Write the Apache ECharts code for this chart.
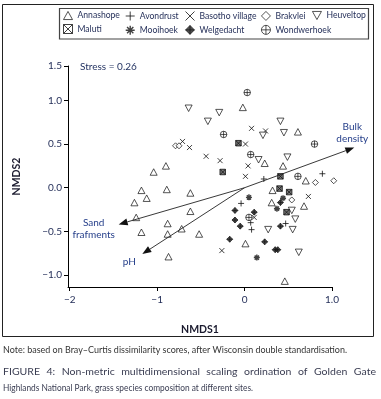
<!DOCTYPE html>
<html><head><meta charset="utf-8">
<script src="https://cdn.jsdelivr.net/npm/echarts@6/dist/echarts.min.js"></script>
<style>html,body{margin:0;padding:0;background:#fff}#c{width:381px;height:399px}</style>
</head><body><div id="c"></div>
<script>
// ---- data ----
const siteNames = ['Annashope','Avondrust','Basotho village','Brakvlei','Heuveltop','Maluti','Mooihoek','Welgedacht','Wondwerhoek'];
const annashopeX = [-0.90,-1.04,-1.18,-0.89,-0.62,-1.12,-1.26,-0.62,-1.24,-0.88,-1.18,-0.88,-0.72,-0.52,-0.87,-0.02,0.61,0.23,0.44,0.70,0.32,0.31,0.68,0.01,0.46];
const annashopeY = [0.25,0.18,-0.03,-0.02,-0.06,-0.12,-0.17,-0.27,-0.34,-0.41,-0.51,-0.53,-0.47,-0.53,-0.79,0.92,0.64,0.28,0.25,0.08,-0.03,-0.17,-0.21,-0.64,-1.07];
const avondrustX = [0.22,0.89,-0.04,0.07,0.08,0.47];
const avondrustY = [0.10,0.16,-0.18,-0.40,-0.48,-0.41];
const basothoX = [-0.71,-0.63,-0.44,-0.28,0.08,0.01,0.24,0.04,0.01,0.73,0.11,-0.26];
const basothoY = [0.53,0.46,0.36,0.31,0.68,0.50,0.65,0.25,0.13,-0.10,-0.34,-0.72];
const brakvleiX = [-0.79,-0.75,0.81,1.02,0.54];
const brakvleiY = [0.48,0.48,0.06,0.08,-0.14];
const heuveltopX = [-0.64,-0.42,-0.29,0.41,0.21,0.45,0.16,0.49,0.54,0.58,0.27,0.55,0.62];
const heuveltopY = [0.91,0.76,0.86,0.76,0.60,0.63,0.32,0.35,-0.26,-0.36,-0.48,-0.48,-0.74];
const malutiX = [-0.07,-0.25,0.41,0.40,0.51,0.48];
const malutiY = [0.51,0.18,0.13,-0.01,-0.05,-0.28];
const mooihoekX = [0.05,0.44,0.37,0.14];
const mooihoekY = [-0.11,-0.12,-0.24,-0.80];
const welgedachtX = [-0.11,0.11,-0.11,-0.05,-0.17,0.23,0.41,0.41,0.35,0.38];
const welgedachtY = [-0.26,-0.28,-0.37,-0.44,-0.59,-0.62,-0.17,-0.44,-0.71,-0.71];
const wondwerhoekX = [0.03,-0.24,0.07,0.80,0.61,0.05];
const wondwerhoekY = [1.09,0.61,0.38,0.50,0.13,-0.34];

const arrowNames = ['Bulk\ndensity','Sand\nfrafments','pH'];
const arrowX = [1.255,-1.44,-1.17];
const arrowY = [0.46,-0.42,-0.76];

const xTickValues = [-2,-1,0,1];
const xTickLabels = ['\u22122','\u22121','0','1.0'];
const yTickLabels = ['\u22121.0','\u22120.5','0.0','0.5','1.0','1.5'];
const stressText = 'Stress = 0.26';
const noteText = 'Note: based on Bray\u2013Curtis dissimilarity scores, after Wisconsin double standardisation.';
const captionLine1 = 'FIGURE 4: Non-metric multidimensional scaling ordination of Golden Gate';
const captionLine2 = 'Highlands National Park, grass species composition at different sites.';

// ---- axis extents / layout ----
const xMin = -2.02, xMax = 1.0;
const yMin = -1.137, yMax = 1.394;
const yTickValues = [-1,-0.5,0,0.5,1.0,yMax];

const siteX = [annashopeX,avondrustX,basothoX,brakvleiX,heuveltopX,malutiX,mooihoekX,welgedachtX,wondwerhoekX];
const siteY = [annashopeY,avondrustY,basothoY,brakvleiY,heuveltopY,malutiY,mooihoekY,welgedachtY,wondwerhoekY];

const open = {color:'#fff', borderColor:'#111', borderWidth:0.9};
const siteStyle = [
  {sym:'path://M5,0L10,9L0,9Z', size:[7,6.5], item:open},
  {sym:'path://M0,5L10,5M5,0L5,10', size:6, item:{color:'#fff',borderColor:'#111',borderWidth:1}},
  {sym:'path://M0,0L10,10M10,0L0,10', size:5, item:{color:'#fff',borderColor:'#111',borderWidth:1}},
  {sym:'path://M5,0L10,5L5,10L0,5Z', size:6, item:open},
  {sym:'path://M0,0L10,0L5,9Z', size:[7,6.5], item:open},
  {sym:'path://M0,0L10,0L10,10L0,10Z M0,0L10,10M10,0L0,10', size:5.5, item:{color:'#555',borderColor:'#111',borderWidth:1}},
  {sym:'path://M5,0L5,10M0,5L10,5M1.5,1.5L8.5,8.5M8.5,1.5L1.5,8.5', size:6, item:{color:'#111',borderColor:'#111',borderWidth:1.4}},
  {sym:'path://M5,0L10,5L5,10L0,5Z M0,5L10,5M5,0L5,10', size:6, item:{color:'#222',borderColor:'#111',borderWidth:0.8}},
  {sym:'path://M0,5A5,5 0 1 1 10,5A5,5 0 1 1 0,5Z M0,5L10,5M5,0L5,10', size:6.5, item:{color:'#fff',borderColor:'#111',borderWidth:0.9}}
];

const scatterSeries = siteNames.map((n,i)=>({
  type:'scatter', name:n, clip:false,
  symbol: siteStyle[i].sym, symbolSize: siteStyle[i].size,
  itemStyle: siteStyle[i].item,
  data: siteX[i].map((x,j)=>[x, siteY[i][j]])
}));

const arrowLabelOffset = [[-2,-15],[-25,4],[-13,8]];
const arrowSeries = {
  type:'custom', clip:false, silent:true, z:5,
  data: arrowX.map((x,i)=>[x, arrowY[i], i]),
  renderItem: function(params, api){
    const i = api.value(2);
    const s = api.coord([0,0]);
    const e = api.coord([api.value(0), api.value(1)]);
    const dx = e[0]-s[0], dy = e[1]-s[1];
    const L = Math.hypot(dx,dy), ux = dx/L, uy = dy/L;
    const hl = 9, hw = 3.4;
    const bx = e[0]-ux*hl, by = e[1]-uy*hl;
    const off = arrowLabelOffset[i];
    return {type:'group', children:[
      {type:'line', shape:{x1:s[0],y1:s[1],x2:bx,y2:by}, style:{stroke:'#222',lineWidth:0.9}},
      {type:'polygon', shape:{points:[[e[0],e[1]],[bx-uy*hw,by+ux*hw],[bx+uy*hw,by-ux*hw]]}, style:{fill:'#111'}},
      {type:'text', x:e[0]+off[0], y:e[1]+off[1], style:{text:arrowNames[i], fill:'#27408b', font:'10px Lato', align:'center', verticalAlign:'middle', lineHeight:12}}
    ]};
  }
};

// legend columns
const legendCols = [['Annashope','Maluti'],['Avondrust','Mooihoek'],['Basotho village','Welgedacht'],['Brakvlei','Wondwerhoek'],['Heuveltop']];
const legendLeft = [63,125,185,261,312];
const legends = legendCols.map((col,k)=>({
  orient:'vertical', left:legendLeft[k], top:11, padding:0, itemGap:4,
  itemWidth:9, itemHeight:9, selectedMode:false,
  textStyle:{fontFamily:'Lato', fontSize:8.6, color:'#1f2a55'},
  data: col.map(n=>{const st = siteStyle[siteNames.indexOf(n)]; return {name:n, icon:st.sym, itemStyle:Object.assign({}, st.item, n==='Maluti'?{color:'#fff'}:{})};})
}));

// caption helpers
const mctx = document.createElement('canvas').getContext('2d');
function tw(t, font){ mctx.font = font; return mctx.measureText(t).width; }
const capFont = '10px Lato';
const capScale2 = 250 / tw(captionLine2, capFont);
const noteFont = '8.5px Lato';
const noteScale = 344 / tw(noteText, noteFont);
const words = captionLine1.split(' ');
const rawW = words.map(w=>tw(w,capFont));
const capScale1 = (373 - (words.length-1)*6.5) / rawW.reduce((a,b)=>a+b,0);
const wordW = rawW.map(w=>w*capScale1);
const gap = (373 - wordW.reduce((a,b)=>a+b,0)) / (words.length-1);
let cx = 3;
const line1Els = words.map((w,k)=>{ const el = {type:'text', x:cx, y:372, scaleX:capScale1, style:{text:w, font:capFont, fill:'#3a3d52', verticalAlign:'middle'}}; cx += wordW[k]+gap; return el; });

const chart = echarts.init(document.getElementById('c'), null, {renderer:'canvas'});
chart.setOption({
  animation:false,
  backgroundColor:'#fff',
  grid:{left:68, right:49, top:66, bottom:112, containLabel:false, outerBoundsMode:'none'},
  xAxis:{type:'value', min:xMin, max:xMax, name:'NMDS1', nameLocation:'middle', nameGap:37,
    nameTextStyle:{fontFamily:'Lato', fontWeight:'bold', fontSize:10.5, color:'#1a1a2e'},
    axisLine:{show:true, onZero:false, lineStyle:{color:'#000', width:1}},
    axisTick:{show:true, length:4, customValues:xTickValues, lineStyle:{color:'#000'}},
    axisLabel:{customValues:xTickValues, margin:8, fontFamily:'Lato', fontSize:10, color:'#1f2a55',
      formatter:v=>{const i=xTickValues.findIndex(t=>Math.abs(t-v)<1e-6); return i>=0?xTickLabels[i]:'';}},
    splitLine:{show:false}},
  yAxis:{type:'value', min:yMin, max:yMax, name:'NMDS2', nameLocation:'middle', nameGap:46,
    nameTextStyle:{fontFamily:'Lato', fontWeight:'bold', fontSize:10.5, color:'#1a1a2e'},
    axisLine:{show:true, onZero:false, lineStyle:{color:'#000', width:1}},
    axisTick:{show:true, length:4, customValues:yTickValues, lineStyle:{color:'#000'}},
    axisLabel:{customValues:yTickValues, margin:6, fontFamily:'Lato', fontSize:10, color:'#1f2a55',
      formatter:v=>{const i=yTickValues.findIndex(t=>Math.abs(t-v)<1e-6); return i>=0?yTickLabels[i]:'';}},
    splitLine:{show:false}},
  legend: legends,
  graphic:[
    {type:'rect', shape:{x:2.5,y:4.5,width:371,height:332}, style:{fill:'none',stroke:'#222',lineWidth:1}, silent:true},
    {type:'rect', shape:{x:59.5,y:8.5,width:309,height:30.5}, style:{fill:'none',stroke:'#444',lineWidth:1.2}, silent:true},
    {type:'text', x:80, y:67, style:{text:stressText, font:'10px Lato', fill:'#1f2f5f', verticalAlign:'middle'}},
    {type:'text', x:3, y:350, scaleX:noteScale, style:{text:noteText, font:noteFont, fill:'#333', verticalAlign:'middle'}},
    ...line1Els,
    {type:'text', x:3, y:388, scaleX:capScale2, style:{text:captionLine2, font:capFont, fill:'#3a3d52', verticalAlign:'middle'}}
  ],
  series:[arrowSeries, ...scatterSeries]
});
</script></body></html>
